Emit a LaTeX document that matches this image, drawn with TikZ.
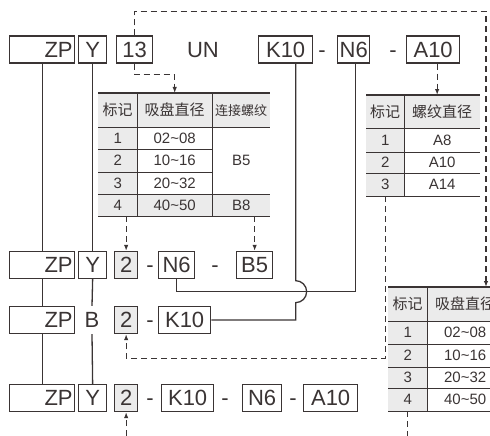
\documentclass[tikz,border=0pt]{standalone}
\usepackage{fontspec}
\setmainfont{Liberation Sans}
\newfontfamily\cjk{Noto Sans CJK SC}
\usetikzlibrary{arrows.meta}
\definecolor{LineDark}{HTML}{3A3434}
\definecolor{CellGray}{HTML}{EBEBEB}

\begin{document}
\begin{tikzpicture}[
  x=1pt, y=-1pt,
  >={Latex[length=6pt,width=4.5pt]},
  % ── code box (one part of the order code) ───────────────────────────────
  codebox/.style={
    draw=LineDark, line width=1.3pt, text=LineDark,
    minimum height=27pt, inner xsep=2pt, inner ysep=0pt,
    text height=15.5pt, text depth=0pt, anchor=west,
    font=\fontsize{22}{22}\selectfont
  },
  graybox/.style={codebox, fill=CellGray},
  plain/.style={codebox, draw=none, anchor=center},
  % ── table cell ──────────────────────────────────────────────────────────
  cell/.style={
    inner sep=0pt, anchor=north west, text=LineDark,
    font=\fontsize{15}{15}\selectfont
  },
  head/.style={cell, fill=CellGray},
  % ── lines ───────────────────────────────────────────────────────────────
  hrule/.style={draw=LineDark, line width=1.7pt},
  vrule/.style={draw=LineDark, line width=1pt},
  link/.style={draw=LineDark, line width=1.3pt},
  dlink/.style={draw=LineDark, line width=1.3pt, dash pattern=on 6pt off 4pt},
]
\useasboundingbox (0,0) rectangle (490,436);
\clip (0,0) rectangle (490,436);

%% ── Row 1: full order code ──────────────────────────────────────────────
\node[codebox, text width=61pt, align=right] (zp1) at (9,49.5) {ZP};
\node[codebox, minimum width=28pt] (y1)  at (78,49.5)  {Y};
\node[codebox, minimum width=36pt] (n13) at (116,49.5) {13};
\node[plain] (un)  at (203,49.5) {UN};
\node[codebox, minimum width=54pt] (k1)  at (258,49.5) {K10};
\node[plain] (d1a) at (322,49.5) {-};
\node[codebox, minimum width=31pt] (n1)  at (337,49.5) {N6};
\node[plain] (d1b) at (393,49.5) {-};
\node[codebox, minimum width=53pt] (a1)  at (406,49.5) {A10};

%% ── Table 1: pad diameter / thread ──────────────────────────────────────
\node[head, minimum width=39pt, minimum height=34pt] (t1h1) at (98,93)  {\cjk 标记};
\node[head, minimum width=75pt, minimum height=34pt] (t1h2) at (137,93) {\cjk 吸盘直径};
\node[head, minimum width=58pt, minimum height=34pt,
      font=\fontsize{13}{13}\selectfont] (t1h3) at (212,93) {\cjk 连接螺纹};
\node[head, minimum width=39pt, minimum height=22pt] (t1a1) at (98,127)  {1};
\node[cell, minimum width=75pt, minimum height=22pt] (t1a2) at (137,127) {02\textasciitilde08};
\node[head, minimum width=39pt, minimum height=23pt] (t1b1) at (98,149)  {2};
\node[cell, minimum width=75pt, minimum height=23pt] (t1b2) at (137,149) {10\textasciitilde16};
\node[head, minimum width=39pt, minimum height=22pt] (t1c1) at (98,172)  {3};
\node[cell, minimum width=75pt, minimum height=22pt] (t1c2) at (137,172) {20\textasciitilde32};
\node[head, minimum width=39pt, minimum height=22pt] (t1d1) at (98,194)  {4};
\node[head, minimum width=75pt, minimum height=22pt] (t1d2) at (137,194) {40\textasciitilde50};
\node[cell, minimum width=58pt, minimum height=67pt] (t1b3) at (212,127) {B5};
\node[head, minimum width=58pt, minimum height=22pt, text depth=-3pt] (t1d3) at (212,194) {B8};

\draw[hrule] (t1h1.north west) -- (t1h3.north east);
\draw[hrule] (t1h1.south west) -- (t1h3.south east);
\draw[hrule] (t1a1.south west) -- (t1a2.south east);
\draw[hrule] (t1b1.south west) -- (t1b2.south east);
\draw[hrule] (t1c1.south west) -- (t1b3.south east);
\draw[hrule] (t1d1.south west) -- (t1d3.south east);
\draw[vrule] (t1h1.north east) -- (t1d1.south east);
\draw[vrule] (t1h2.north east) -- (t1d2.south east);

%% ── Table 2: thread diameter ────────────────────────────────────────────
\node[head, minimum width=38pt, minimum height=33pt] (t2h1) at (366,95)  {\cjk 标记};
\node[head, minimum width=76pt, minimum height=33pt] (t2h2) at (404,95)  {\cjk 螺纹直径};
\node[head, minimum width=38pt, minimum height=24pt] (t2a1) at (366,128) {1};
\node[cell, minimum width=76pt, minimum height=24pt] (t2a2) at (404,128) {A8};
\node[head, minimum width=38pt, minimum height=21pt] (t2b1) at (366,152) {2};
\node[cell, minimum width=76pt, minimum height=21pt] (t2b2) at (404,152) {A10};
\node[head, minimum width=38pt, minimum height=23pt] (t2c1) at (366,173) {3};
\node[cell, minimum width=76pt, minimum height=23pt] (t2c2) at (404,173) {A14};

\draw[hrule] (t2h1.north west) -- (t2h2.north east);
\draw[hrule] (t2h1.south west) -- (t2h2.south east);
\draw[hrule] (t2a1.south west) -- (t2a2.south east);
\draw[hrule] (t2b1.south west) -- (t2b2.south east);
\draw[hrule] (t2c1.south west) -- (t2c2.south east);
\draw[vrule] (t2h1.north east) -- (t2c1.south east);

%% ── Table 3: pad diameter (cut at the right edge) ──────────────────────
\node[head, minimum width=39pt, minimum height=34pt] (t3h1) at (388,287) {\cjk 标记};
\node[head, minimum width=76pt, minimum height=34pt] (t3h2) at (427,287) {\cjk 吸盘直径};
\node[head, minimum width=39pt, minimum height=23pt] (t3a1) at (388,321) {1};
\node[cell, minimum width=76pt, minimum height=23pt] (t3a2) at (427,321) {02\textasciitilde08};
\node[head, minimum width=39pt, minimum height=23pt] (t3b1) at (388,344) {2};
\node[cell, minimum width=76pt, minimum height=23pt] (t3b2) at (427,344) {10\textasciitilde16};
\node[head, minimum width=39pt, minimum height=21pt] (t3c1) at (388,367) {3};
\node[cell, minimum width=76pt, minimum height=21pt] (t3c2) at (427,367) {20\textasciitilde32};
\node[head, minimum width=39pt, minimum height=23pt] (t3d1) at (388,388) {4};
\node[cell, minimum width=76pt, minimum height=23pt] (t3d2) at (427,388) {40\textasciitilde50};

\draw[hrule] (t3h1.north west) -- (t3h2.north east);
\draw[hrule] (t3h1.south west) -- (t3h2.south east);
\draw[hrule] (t3a1.south west) -- (t3a2.south east);
\draw[hrule] (t3b1.south west) -- (t3b2.south east);
\draw[hrule] (t3c1.south west) -- (t3c2.south east);
\draw[hrule] (t3d1.south west) -- (t3d2.south east);
\draw[vrule] (t3h1.north east) -- (t3d1.south east);

%% ── Row 2 ───────────────────────────────────────────────────────────────
\node[codebox, text width=61pt, align=right] (zp2) at (9,265) {ZP};
\node[codebox, minimum width=28pt] (y2)   at (78,265)  {Y};
\node[graybox, minimum width=23pt] (two2) at (114,265) {2};
\node[plain] (d2a) at (150,265) {-};
\node[codebox, minimum width=36pt] (n2)   at (158,265) {N6};
\node[plain] (d2b) at (215,265) {-};
\node[codebox, minimum width=36pt] (b5)   at (236,265) {B5};

%% ── Row 3 ───────────────────────────────────────────────────────────────
\node[codebox, text width=61pt, align=right] (zp3) at (9,320) {ZP};
\node[plain] (bb3) at (92,320) {B};
\node[graybox, minimum width=23pt] (two3) at (114,320) {2};
\node[plain] (d3a) at (150,320) {-};
\node[codebox, minimum width=52pt] (k3)   at (158,320) {K10};

%% ── Row 4 ───────────────────────────────────────────────────────────────
\node[codebox, text width=61pt, align=right] (zp4) at (9,398) {ZP};
\node[codebox, minimum width=28pt] (y4)   at (78,398)  {Y};
\node[graybox, minimum width=23pt] (two4) at (114,398) {2};
\node[plain] (d4a) at (150,398) {-};
\node[codebox, minimum width=52pt] (k4)   at (161,398) {K10};
\node[plain] (d4b) at (225,398) {-};
\node[codebox, minimum width=39pt] (n4)   at (242,398) {N6};
\node[plain] (d4c) at (293,398) {-};
\node[codebox, minimum width=54pt] (a4)   at (303,398) {A10};

\coordinate (foot) at (0,436);
\coordinate (t3in) at (486,287);

%% ── Solid links between rows ────────────────────────────────────────────
\draw[link] (zp1.south) -- (zp2.north);
\draw[link] (zp2.south) -- (zp3.north);
\draw[link] (zp3.south) -- (zp4.north);
\draw[link] (y1.south) -- (y2.north);
\draw[link] (y2.south) -- (bb3.north);
\draw[link] (bb3.south) -- (y4.north);
\draw[link] (n2.south) -- ++(0,12) -| ([xshift=2pt]n1.south);
\draw[link] ([xshift=10pt]k1.south) -- ++(0,217)
  arc[start angle=-90, end angle=90, radius=11] |- (k3.east);

%% ── Dashed links to and from the tables ─────────────────────────────────
\draw[dlink, ->] (n13.north) -- ++(0,-24) -| (t3in);
\draw[dlink, ->] (n13.south) -- ++(0,11) -| (t1h2.north);
\draw[dlink, ->] ([xshift=4pt]a1.south) -- ([xshift=4pt]a1.south |- t2h2.north);
\draw[dlink, ->] (two2.north |- t1d1.south) -- (two2.north);
\draw[dlink, ->] (b5.north |- t1d3.south) -- (b5.north);
\draw[dlink, ->] (t2c1.south) -- ++(0,162) -| (two3.south);
\draw[dlink, ->] (two4.south |- foot) -- (two4.south);
\draw[dlink] (t3d1.south) -- (t3d1.south |- foot);

\end{tikzpicture}
\end{document}
